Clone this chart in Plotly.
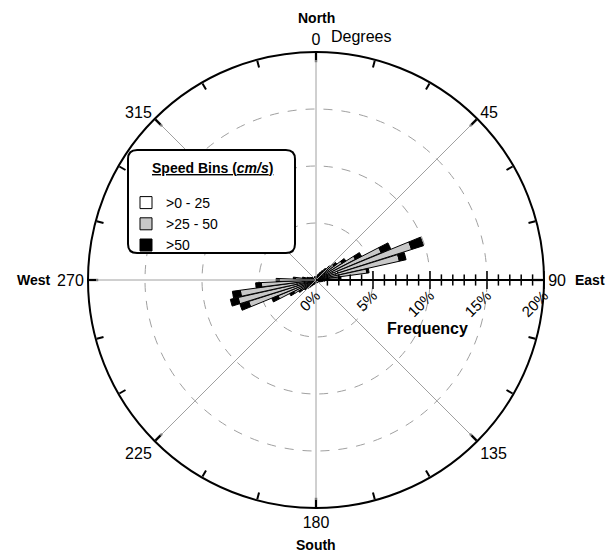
import plotly.graph_objects as go

# ---- data (percent frequency per direction bin, by speed class) ----
directions = list(range(0, 360, 5))
speed_0_25 = [0.1, 0.1, 0.1, 0.1, 0.1, 0.2, 0.2, 0.3, 0.3, 0.4, 0.5, 0.7, 1.0, 1.6, 2.0, 1.8, 1.2, 0.6,
              0.4, 0.3, 0.2, 0.2, 0.1, 0.1, 0.1, 0.1, 0.1, 0.1, 0.1, 0.1, 0.1, 0.1, 0.1, 0.1, 0.1, 0.1,
              0.1, 0.1, 0.1, 0.1, 0.1, 0.1, 0.1, 0.2, 0.2, 0.3, 0.3, 0.3, 0.5, 0.6, 1.0, 1.7, 1.7, 1.2,
              0.8, 0.5, 0.3, 0.2, 0.2, 0.2, 0.1, 0.1, 0.1, 0.1, 0.1, 0.1, 0.1, 0.1, 0.1, 0.1, 0.1, 0.1]
speed_25_50 = [0.2, 0.2, 0.2, 0.3, 0.3, 0.3, 0.5, 0.6, 0.8, 1.1, 1.5, 2.0, 2.9, 4.6, 6.8, 5.7, 3.3, 1.4,
               0.7, 0.4, 0.3, 0.3, 0.3, 0.3, 0.2, 0.2, 0.2, 0.2, 0.2, 0.2, 0.1, 0.1, 0.1, 0.1, 0.1, 0.1,
               0.1, 0.2, 0.2, 0.2, 0.3, 0.3, 0.3, 0.3, 0.5, 0.6, 0.8, 1.2, 1.7, 3.0, 5.2, 5.3, 5.0, 3.6,
               2.4, 1.3, 0.8, 0.5, 0.4, 0.3, 0.3, 0.3, 0.2, 0.2, 0.2, 0.2, 0.2, 0.2, 0.2, 0.2, 0.2, 0.2]
speed_50_up = [0.0, 0.0, 0.0, 0.0, 0.1, 0.1, 0.1, 0.1, 0.2, 0.2, 0.3, 0.4, 0.6, 0.9, 1.1, 0.6, 0.2, 0.2,
               0.1, 0.1, 0.1, 0.0, 0.0, 0.0, 0.0, 0.0, 0.0, 0.0, 0.0, 0.0, 0.0, 0.0, 0.0, 0.0, 0.0, 0.0,
               0.0, 0.0, 0.0, 0.0, 0.0, 0.0, 0.1, 0.1, 0.1, 0.1, 0.2, 0.3, 0.4, 0.6, 0.8, 0.7, 0.7, 0.5,
               0.3, 0.2, 0.1, 0.1, 0.0, 0.0, 0.0, 0.0, 0.0, 0.0, 0.0, 0.0, 0.0, 0.0, 0.0, 0.0, 0.0, 0.0]
bin_labels = [">0 - 25", ">25 - 50", ">50"]
bin_colors = ["#ffffff", "#c8c8c8", "#000000"]
legend_title = "<b><u>Speed Bins (<i>cm/s</i>)</u></b>"

radial_ticks = [0, 5, 10, 15, 20]
radial_ticktext = ["0%", "5%", "10%", "15%", "20%"]
angle_ticks = list(range(0, 360, 15))
angle_ticktext = [str(a) if a % 45 == 0 else "" for a in angle_ticks]
grid_angles = [0, 45, 90, 135]
RMAX = 20

FONT = "Liberation Sans, Arial, sans-serif"

fig = go.Figure()

# angular gridlines (through the centre)
for a in grid_angles:
    fig.add_trace(go.Scatterpolar(r=[RMAX, 0, RMAX], theta=[a, a, a + 180], mode="lines",
                                  line=dict(color="#a0a0a0", width=1), showlegend=False,
                                  hoverinfo="skip"))
# thicker grey ticks at the 45-degree marks
for a in range(0, 360, 45):
    fig.add_trace(go.Scatterpolar(r=[RMAX * 0.955, RMAX], theta=[a, a], mode="lines",
                                  line=dict(color="#808080", width=2.5), showlegend=False,
                                  hoverinfo="skip"))

for lab, vals, col in zip(bin_labels, [speed_0_25, speed_25_50, speed_50_up], bin_colors):
    fig.add_trace(go.Barpolar(r=vals, theta=directions, name=lab, width=4.6,
                              marker=dict(color=col, line=dict(color="black", width=1))))

# radial axis crossing ticks (every 1 %)
minor_r = [v for v in range(1, RMAX) if v % 5 != 0]
major_r = [5, 10, 15, 20]
fig.add_trace(go.Scatterpolar(r=minor_r, theta=[90] * len(minor_r), mode="markers",
                              marker=dict(symbol="line-ns", size=8, line=dict(color="black", width=1.5)),
                              showlegend=False, hoverinfo="skip"))
fig.add_trace(go.Scatterpolar(r=major_r, theta=[90] * len(major_r), mode="markers",
                              marker=dict(symbol="line-ns", size=13, line=dict(color="black", width=1.5)),
                              showlegend=False, hoverinfo="skip"))

fig.update_layout(
    width=614, height=553,
    margin=dict(l=88, r=70, t=52, b=45),
    paper_bgcolor="white", plot_bgcolor="white",
    font=dict(family=FONT, size=16, color="black"),
    polar=dict(
        domain=dict(x=[0, 1], y=[0, 1]),
        bgcolor="white",
        barmode="stack",
        angularaxis=dict(rotation=90, direction="clockwise", tickmode="array",
                         tickvals=angle_ticks, ticktext=angle_ticktext,
                         ticks="inside", ticklen=7, tickwidth=1.5, tickcolor="black",
                         showgrid=False, showline=True, linecolor="black", linewidth=2,
                         tickfont=dict(size=16, family=FONT, color="black")),
        radialaxis=dict(range=[0, RMAX], angle=0, tickmode="array", tickvals=radial_ticks,
                        ticktext=radial_ticktext, ticks="", tickangle=-45,
                        showline=True, linecolor="black", linewidth=2,
                        showgrid=True, gridcolor="#a0a0a0", griddash="dash", gridwidth=1,
                        tickfont=dict(size=15, family=FONT, color="black")),
    ),
    legend=dict(x=(126 - 88) / 456, y=(508 - 187) / 456, xanchor="left", yanchor="top",
                bgcolor="rgba(0,0,0,0)",
                font=dict(size=14, family=FONT, color="black")),
    showlegend=True,
)

# rounded legend box
x0, x1, y0, y1, rr = (128 - 88) / 456, (295 - 88) / 456, (508 - 253) / 456, (508 - 150) / 456, 0.02
path = (f"M {x0+rr},{y0} L {x1-rr},{y0} Q {x1},{y0} {x1},{y0+rr} L {x1},{y1-rr} Q {x1},{y1} {x1-rr},{y1} "
        f"L {x0+rr},{y1} Q {x0},{y1} {x0},{y1-rr} L {x0},{y0+rr} Q {x0},{y0} {x0+rr},{y0} Z")
fig.add_shape(type="path", path=path, xref="paper", yref="paper",
              line=dict(color="black", width=2), fillcolor="white", layer="above")

anns = [
    dict(text="<b>North</b>", x=0.5, y=1.0746, xanchor="center", size=14),
    dict(text="Degrees", x=(329 - 88) / 456, y=1.035, xanchor="left", size=16),
    dict(text="<b>East</b>", x=(573 - 88) / 456, y=0.5, xanchor="left", size=14),
    dict(text="<b>West</b>", x=(53 - 88) / 456, y=0.5, xanchor="right", size=14),
    dict(text="<b>South</b>", x=0.5, y=(508 - 545) / 456, xanchor="center", size=14),
    dict(text="<b>Frequency</b>", x=(427 - 88) / 456, y=(508 - 328) / 456, xanchor="center", size=16),
    dict(text=legend_title, x=(212 - 88) / 456, y=(508 - 168) / 456, xanchor="center", size=14),
]
for a in anns:
    fig.add_annotation(text=a["text"], x=a["x"], y=a["y"], xref="paper", yref="paper",
                       xanchor=a["xanchor"], yanchor="middle", showarrow=False,
                       font=dict(family=FONT, size=a["size"], color="black"))

fig.write_html("out.html")
